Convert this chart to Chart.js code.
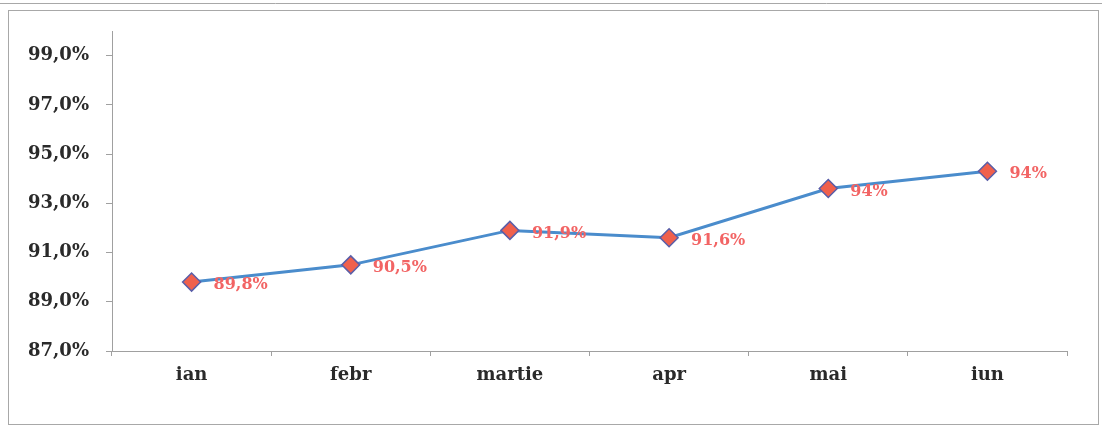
<!DOCTYPE html>
<html>
<head>
<meta charset="utf-8">
<script src="https://cdn.jsdelivr.net/npm/chart.js@4.4.1/dist/chart.umd.min.js"></script>
<style>
  html, body { margin: 0; padding: 0; background: #ffffff; }
  #c { display: block; }
</style>
</head>
<body>
<canvas id="c" width="1102" height="428"></canvas>
<script>
const categories = ["ian", "febr", "martie", "apr", "mai", "iun"];
const values = [89.8, 90.5, 91.9, 91.6, 93.6, 94.3];
const valueLabels = ["89,8%", "90,5%", "91,9%", "91,6%", "94%", "94%"];
const yTicks = [87, 89, 91, 93, 95, 97, 99];
const yMin = 87;
const yMax = 100;

const framePlugin = {
  id: 'frame',
  beforeDraw(chart) {
    const ctx = chart.ctx;
    ctx.save();
    ctx.fillStyle = '#ffffff';
    ctx.fillRect(0, 0, chart.width, chart.height);
    ctx.strokeStyle = '#a8a8a8';
    ctx.lineWidth = 1;
    ctx.beginPath();
    ctx.moveTo(0, 3.5);
    ctx.lineTo(chart.width, 3.5);
    ctx.stroke();
    ctx.strokeRect(8.5, 10.5, chart.width - 12, chart.height - 14);
    ctx.restore();
  }
};

const labelPlugin = {
  id: 'valueLabels',
  afterDatasetsDraw(chart) {
    const ctx = chart.ctx;
    const meta = chart.getDatasetMeta(0);
    ctx.save();
    ctx.font = 'bold 16px "DejaVu Serif"';
    ctx.fillStyle = '#f26464';
    ctx.textAlign = 'left';
    ctx.textBaseline = 'middle';
    meta.data.forEach((pt, i) => {
      ctx.fillText(valueLabels[i], pt.x + 22, pt.y + 3);
    });
    ctx.restore();
  }
};

new Chart(document.getElementById('c'), {
  type: 'line',
  data: {
    labels: categories,
    datasets: [{
      data: values,
      borderColor: '#4a8ccc',
      borderWidth: 3,
      pointStyle: 'rectRot',
      pointRadius: 9,
      pointHoverRadius: 9,
      pointBackgroundColor: '#f0604c',
      pointBorderColor: '#5a5ea8',
      pointBorderWidth: 1.5,
      tension: 0,
      fill: false
    }]
  },
  options: {
    responsive: false,
    animation: false,
    devicePixelRatio: 1,
    layout: { padding: { left: 0, right: 35, top: 31, bottom: 0 } },
    plugins: {
      legend: { display: false },
      tooltip: { enabled: false },
      title: { display: false }
    },
    scales: {
      x: {
        type: 'category',
        offset: true,
        grid: {
          offset: true,
          drawOnChartArea: false,
          drawTicks: true,
          tickLength: 5,
          color: '#a0a0a0'
        },
        border: { display: true, color: '#a0a0a0', width: 1 },
        ticks: {
          color: '#2a2a2a',
          padding: 9,
          font: { family: '"DejaVu Serif"', weight: 'bold', size: 18 }
        },
        afterFit(scale) { scale.height = 77; }
      },
      y: {
        min: yMin,
        max: yMax,
        afterBuildTicks(scale) {
          scale.ticks = yTicks.map(v => ({ value: v }));
        },
        grid: {
          drawOnChartArea: false,
          drawTicks: true,
          tickLength: 6,
          color: '#a0a0a0'
        },
        border: { display: true, color: '#a0a0a0', width: 1 },
        ticks: {
          color: '#2a2a2a',
          padding: 17,
          font: { family: '"DejaVu Serif"', weight: 'bold', size: 18 },
          callback: (v) => v.toFixed(1).replace('.', ',') + '%'
        },
        afterFit(scale) { scale.width = 112; }
      }
    }
  },
  plugins: [framePlugin, labelPlugin]
});
</script>
</body>
</html>
